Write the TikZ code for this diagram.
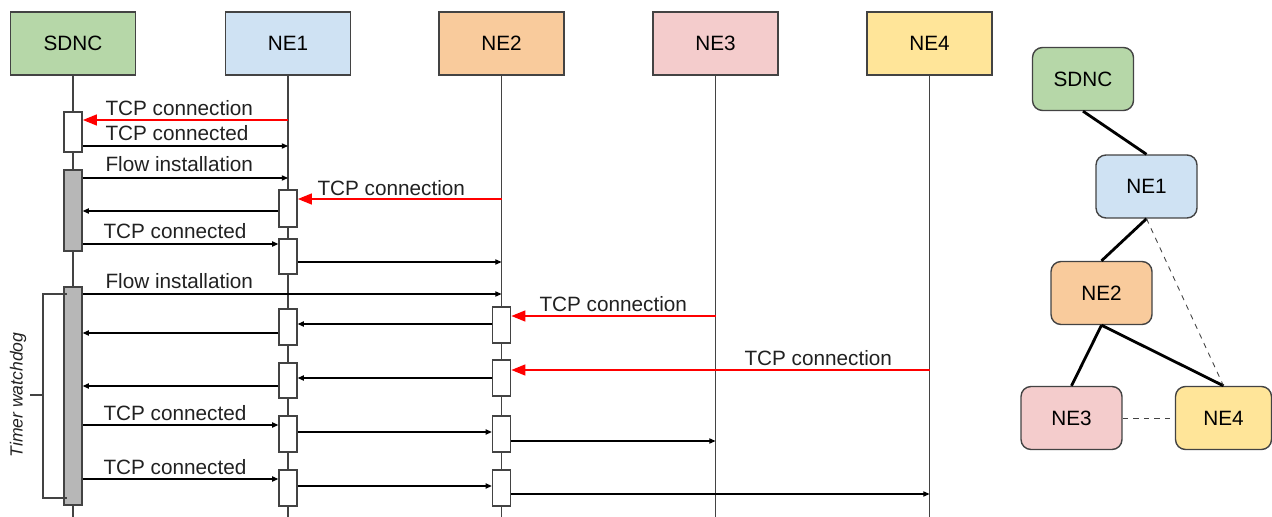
\documentclass[tikz,border=0pt]{standalone}
\usepackage{fontspec}
\setmainfont{Liberation Sans}
\usepackage{xcolor}
\usetikzlibrary{arrows.meta}
\definecolor{sdncgreen}{HTML}{B6D7A8}
\definecolor{neblue}{HTML}{CFE2F3}
\definecolor{neorange}{HTML}{F9CB9C}
\definecolor{nepink}{HTML}{F4CCCC}
\definecolor{neyellow}{HTML}{FFE599}
\definecolor{edgegray}{HTML}{434343}
\definecolor{actgray}{HTML}{B7B7B7}
\definecolor{msgred}{HTML}{FF0000}

\begin{document}
\begin{tikzpicture}[x=0.02cm, y=-0.02cm, >={Triangle[length=3.5pt,width=3pt]},
                    font=\fontsize{11.8}{14}\selectfont, line width=0.6pt]
\tikzstyle{head}=[draw=edgegray, line width=0.8pt, inner sep=0pt,
                    minimum width=2.5cm, minimum height=1.26cm]
\tikzstyle{life}=[draw=edgegray, line width=0.7pt]
\tikzstyle{act}=[draw=edgegray, fill=white, line width=0.8pt,
                    minimum width=0.36cm, inner sep=0pt]
\tikzstyle{busy}=[act, fill=actgray]
\tikzstyle{msg}=[->, black, line width=0.6pt]
\tikzstyle{conn}=[-{Triangle[length=8pt,width=6pt]}, msgred, line width=1.4pt]
\tikzstyle{lbl}=[anchor=base west, inner sep=0pt, text=black!87]
\tikzstyle{topo}=[draw=edgegray, rounded corners=0.2cm, line width=0.8pt,
                    inner sep=0pt, minimum width=2.02cm, minimum height=1.26cm]
\tikzstyle{link}=[line width=1.6pt]
\tikzstyle{hint}=[dashed, line width=0.5pt, edgegray]
  \useasboundingbox (0,0) rectangle (1272,517);
  % sequence chart
  \node[head, fill=sdncgreen] (SDNC) at (73,43.5) {SDNC};
  \node[head, fill=neblue] (NE1) at (288,43.5) {NE1};
  \node[head, fill=neorange] (NE2) at (501.5,43.5) {NE2};
  \node[head, fill=nepink] (NE3) at (715.5,43.5) {NE3};
  \node[head, fill=neyellow] (NE4) at (929.5,43.5) {NE4};
  \foreach \n in {SDNC,NE1,NE2,NE3,NE4}
    \draw[life] (\n.south) -- (\n.south |- 0,517);
  \node[act, minimum height=0.8cm] (s1) at (SDNC |- 0,132) {};
  \node[busy, minimum height=1.62cm] (s2) at (SDNC |- 0,210.5) {};
  \node[busy, minimum height=4.36cm] (s3) at (SDNC |- 0,396) {};
  \node[act, minimum height=0.74cm] (n1) at (NE1 |- 0,208.5) {};
  \node[act, minimum height=0.70cm] (n2) at (NE1 |- 0,256.5) {};
  \node[act, minimum height=0.72cm] (n3) at (NE1 |- 0,327) {};
  \node[act, minimum height=0.70cm] (n4) at (NE1 |- 0,380.5) {};
  \node[act, minimum height=0.72cm] (n5) at (NE1 |- 0,434) {};
  \node[act, minimum height=0.72cm] (n6) at (NE1 |- 0,488) {};
  \node[act, minimum height=0.72cm] (m1) at (NE2 |- 0,325) {};
  \node[act, minimum height=0.72cm] (m2) at (NE2 |- 0,378) {};
  \node[act, minimum height=0.72cm] (m3) at (NE2 |- 0,434) {};
  \node[act, minimum height=0.72cm] (m4) at (NE2 |- 0,488) {};
  \draw[conn] (NE1 |- 0,120) -- (s1.east |- 0,120);
  \draw[msg] (s1.east |- 0,146) -- (NE1 |- 0,146);
  \draw[msg] (s2.east |- 0,178) -- (NE1 |- 0,178);
  \draw[conn] (NE2 |- 0,199) -- (n1.east |- 0,199);
  \draw[msg] (n1.west |- 0,211) -- (s2.east |- 0,211);
  \draw[msg] (s2.east |- 0,244) -- (n2.west |- 0,244);
  \draw[msg] (n2.east |- 0,262) -- (NE2 |- 0,262);
  \draw[msg] (s3.east |- 0,294) -- (NE2 |- 0,294);
  \draw[conn] (NE3 |- 0,316) -- (m1.east |- 0,316);
  \draw[msg] (m1.west |- 0,324) -- (n3.east |- 0,324);
  \draw[msg] (n3.west |- 0,333) -- (s3.east |- 0,333);
  \draw[conn] (NE4 |- 0,370) -- (m2.east |- 0,370);
  \draw[msg] (m2.west |- 0,378) -- (n4.east |- 0,378);
  \draw[msg] (n4.west |- 0,386) -- (s3.east |- 0,386);
  \draw[msg] (s3.east |- 0,425) -- (n5.west |- 0,425);
  \draw[msg] (n5.east |- 0,432) -- (m3.west |- 0,432);
  \draw[msg] (m3.east |- 0,441) -- (NE3 |- 0,441);
  \draw[msg] (s3.east |- 0,479) -- (n6.west |- 0,479);
  \draw[msg] (n6.east |- 0,486) -- (m4.west |- 0,486);
  \draw[msg] (m4.east |- 0,494) -- (NE4 |- 0,494);
  \node[lbl] (l1) at (105,116) {TCP connection};
  \node[lbl] (l2) at (105,141) {TCP connected};
  \node[lbl] (l3) at (105,172) {Flow installation};
  \node[lbl] (l4) at (317,195) {TCP connection};
  \node[lbl] (l5) at (103,238) {TCP connected};
  \node[lbl] (l6) at (105,288) {Flow installation};
  \node[lbl] (l7) at (539,311) {TCP connection};
  \node[lbl] (l8) at (744,365) {TCP connection};
  \node[lbl] (l9) at (103,420) {TCP connected};
  \node[lbl] (l10) at (103,474) {TCP connected};
  % watchdog bracket
  \draw[edgegray, line width=0.7pt] (67,294) -- (43,294) -- (43,498) -- (67,498);
  \draw[edgegray, line width=0.7pt] (43,395) -- (30,395);
  \node[rotate=90, inner sep=0pt, text=black!87,
        font=\fontsize{10}{12}\selectfont\itshape] (timer) at (18,395) {Timer watchdog};
  % topology
  \node[topo, fill=sdncgreen] (tS) at (1083,79) {SDNC};
  \node[topo, fill=neblue] (t1) at (1146.5,186.5) {NE1};
  \node[topo, fill=neorange] (t2) at (1101.5,293) {NE2};
  \node[topo, fill=nepink] (t3) at (1071.5,418) {NE3};
  \node[topo, fill=neyellow, minimum width=1.92cm] (t4) at (1223.5,418) {NE4};
  \draw[link] (tS.south) -- (t1.north);
  \draw[link] (t1.south) -- (t2.north);
  \draw[link] (t2.south) -- (t3.north);
  \draw[link] (t2.south) -- (t4.north);
  \draw[hint] (t1.south) -- (t4.north);
  \draw[hint] (t3.east) -- (t4.west);
\end{tikzpicture}
\end{document}
